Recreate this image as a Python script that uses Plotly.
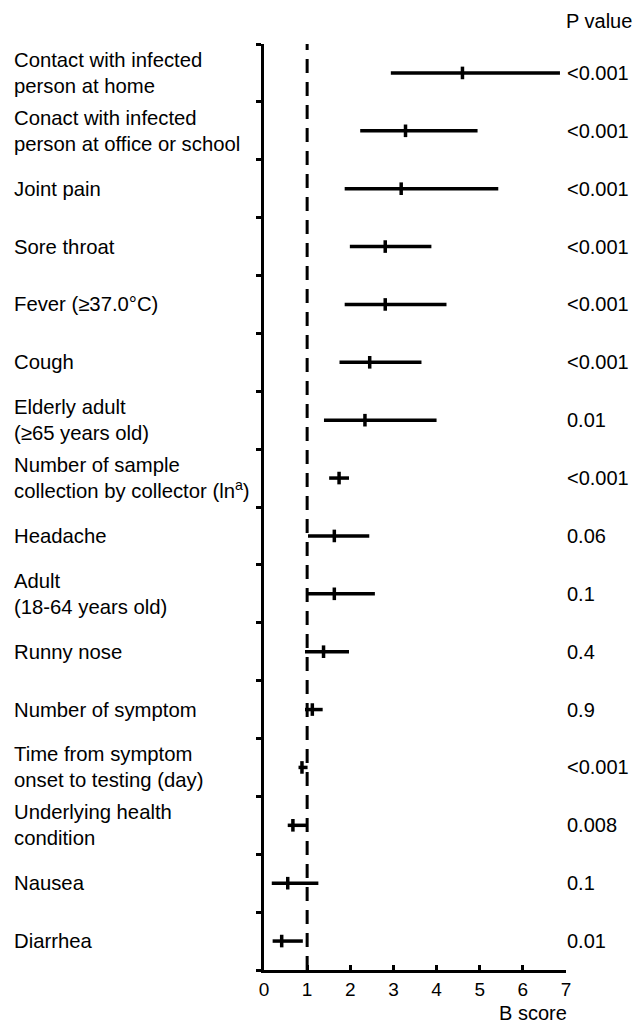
import plotly.graph_objects as go

labels = [
    "Contact with infected<br>person at home",
    "Conact with infected<br>person at office or school",
    "Joint pain",
    "Sore throat",
    "Fever (≥37.0°C)",
    "Cough",
    "Elderly adult<br>(≥65 years old)",
    "Number of sample<br>collection by collector (ln<sup>a</sup>)",
    "Headache",
    "Adult<br>(18-64 years old)",
    "Runny nose",
    "Number of symptom",
    "Time from symptom<br>onset to testing (day)",
    "Underlying health<br>condition",
    "Nausea",
    "Diarrhea",
]
estimate = [4.60, 3.28, 3.18, 2.81, 2.81, 2.45, 2.34, 1.74, 1.63, 1.63, 1.38, 1.12, 0.88, 0.67, 0.55, 0.41]
ci_low = [2.94, 2.23, 1.87, 1.99, 1.87, 1.75, 1.39, 1.51, 1.02, 1.0, 0.95, 0.95, 0.80, 0.55, 0.18, 0.20]
ci_high = [6.86, 4.95, 5.43, 3.88, 4.23, 3.65, 4.00, 1.97, 2.44, 2.57, 1.97, 1.36, 1.01, 1.01, 1.26, 0.90]
p_values = ["<0.001", "<0.001", "<0.001", "<0.001", "<0.001", "<0.001", "0.01", "<0.001",
            "0.06", "0.1", "0.4", "0.9", "<0.001", "0.008", "0.1", "0.01"]
x_ticks = [0, 1, 2, 3, 4, 5, 6, 7]

rows = list(range(len(labels)))
font = "Liberation Sans, Arial, sans-serif"

fig = go.Figure()
fig.add_trace(go.Scatter(
    x=estimate, y=rows, mode="markers",
    marker=dict(symbol="line-ns", size=9, color="black",
                line=dict(color="black", width=3.5)),
    error_x=dict(type="data", symmetric=False,
                 array=[h - e for h, e in zip(ci_high, estimate)],
                 arrayminus=[e - l for e, l in zip(estimate, ci_low)],
                 thickness=3.5, width=0, color="black"),
    showlegend=False, cliponaxis=False, hoverinfo="skip",
))

fig.add_shape(type="line", xref="x", yref="paper", x0=1, x1=1, y0=0, y1=1,
              line=dict(color="black", width=3, dash="14px,9px"))

L, R, T, B = 264, 67, 44, 53
pw = 633 - L - R
ph = 1023 - T - B

annotations = []
for i, lab in enumerate(labels):
    annotations.append(dict(x=(12 - L) / pw, xref="paper", y=i, yref="y",
                            text=lab, showarrow=False, xanchor="left", yanchor="middle",
                            align="left", font=dict(size=20.3, color="black", family=font)))
for i, p in enumerate(p_values):
    annotations.append(dict(x=(565 - L) / pw, xref="paper", y=i, yref="y",
                            text=p, showarrow=False, xanchor="left", yanchor="middle",
                            align="left", font=dict(size=20, color="black", family=font)))
annotations.append(dict(x=(564 - L) / pw, xref="paper", y=1 + (T - 21) / ph, yref="paper",
                        text="P value", showarrow=False, xanchor="left", yanchor="middle",
                        font=dict(size=20, color="black", family=font)))
annotations.append(dict(x=(569 - L) / pw, xref="paper", y=-(1013 - (1023 - B)) / ph, yref="paper",
                        text="B score", showarrow=False, xanchor="right", yanchor="middle",
                        font=dict(size=20, color="black", family=font)))

fig.update_layout(
    width=633, height=1023,
    margin=dict(l=L, r=R, t=T, b=B, pad=0),
    paper_bgcolor="white", plot_bgcolor="white",
    annotations=annotations,
    hovermode=False,
    xaxis=dict(range=[0, 7], tickvals=x_ticks, ticktext=[str(v) for v in x_ticks],
               showgrid=False, zeroline=False, showline=True, linecolor="black", linewidth=3,
               ticks="inside", ticklen=5, tickwidth=3, tickcolor="black",
               tickfont=dict(size=19, color="black", family=font)),
    yaxis=dict(range=[len(labels) - 0.5, -0.5], tickvals=[i - 0.5 for i in range(len(labels) + 1)],
               showticklabels=False, showgrid=False, zeroline=False, showline=True,
               linecolor="black", linewidth=3, ticks="outside", ticklen=5, tickwidth=3,
               tickcolor="black"),
)

fig.write_html("out.html", config={"displayModeBar": False},
               post_script="document.body.style.margin='0';document.body.style.overflow='hidden';")
